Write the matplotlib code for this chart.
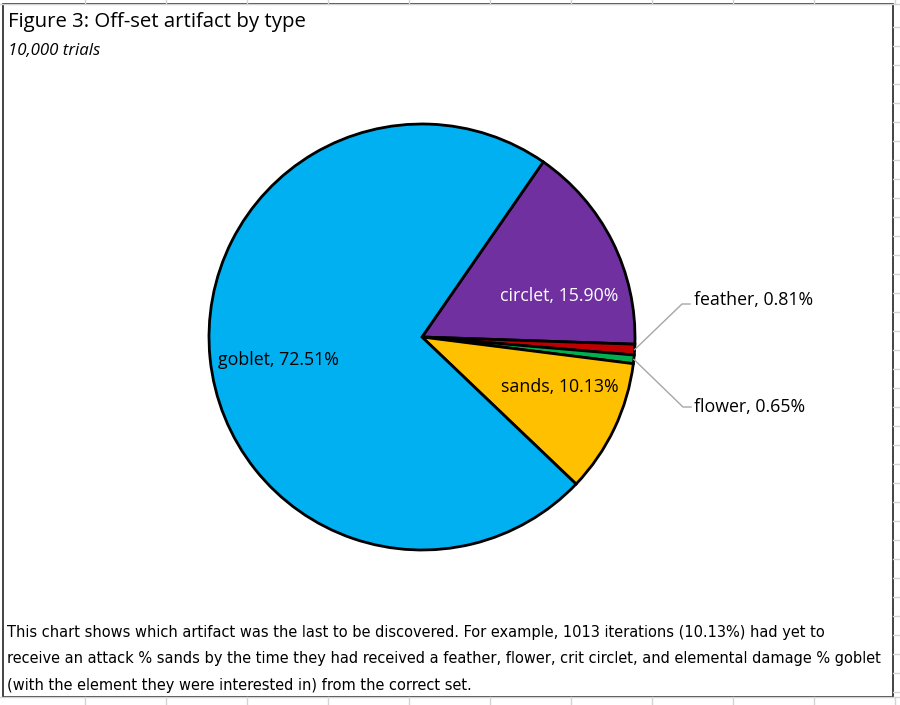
import numpy as np
import matplotlib.pyplot as plt
from matplotlib.patches import Rectangle

# Data (clockwise from the circlet/goblet boundary)
labels = ['circlet', 'feather', 'flower', 'sands', 'goblet']
shares = [15.90, 0.81, 0.65, 10.13, 72.51]
colors = ['#7030A0', '#C00000', '#00B050', '#FFC000', '#00B0F0']
label_colors = ['white', 'black', 'black', 'black', 'black']

title = 'Figure 3: Off-set artifact by type'
subtitle = '10,000 trials'
note = ('This chart shows which artifact was the last to be discovered. For example, 1013 iterations (10.13%) had yet to\n'
        'receive an attack % sands by the time they had received a feather, flower, crit circlet, and elemental damage % goblet\n'
        '(with the element they were interested in) from the correct set.')

W, H = 900, 705
fig = plt.figure(figsize=(9, 7.05), dpi=100, facecolor='white')
ax = fig.add_axes([0, 0, 1, 1])

# spreadsheet grid around the chart
grid = '#D4D4D4'
for y in np.arange(H - 27, 0, -19):
    ax.plot([893, W], [y, y], color=grid, lw=1)
for x in np.arange(85, 900, 81):
    ax.plot([x, x], [0, 8], color=grid, lw=1)
    ax.plot([x, x], [H - 4, H], color=grid, lw=1)
ax.plot([0, W], [8, 8], color=grid, lw=1)
ax.plot([0, W], [H - 4, H - 4], color=grid, lw=1)

# chart border
ax.add_patch(Rectangle((3, 8), 890, H - 12, fill=False, edgecolor='#222222', lw=1.2))

# pie
cx, cy, r = 422, H - 337, 213
start = 90 - 34.7
wedges, _ = ax.pie(shares, colors=colors, startangle=start, counterclock=False,
                   center=(cx, cy), radius=r, frame=True,
                   wedgeprops=dict(edgecolor='black', linewidth=2))
ax.set_xlim(0, W)
ax.set_ylim(0, H)
ax.set_aspect('equal')
ax.axis('off')

font = 'Open Sans'
# inside labels
inside = {0: (137, 41), 3: (138, -50), 4: (-144, -23)}
for i, (dx, dy) in inside.items():
    ax.text(cx + dx, cy + dy, f'{labels[i]}, {shares[i]:.2f}%', ha='center', va='center',
            fontsize=12.8, color=label_colors[i], family=font)

# outside labels with leader lines
outside = {1: (694, H - 300, 682, H - 304), 2: (694, H - 407, 683, H - 407)}
for i, (tx, ty, lx, ly) in outside.items():
    w = wedges[i]
    mid = np.deg2rad((w.theta1 + w.theta2) / 2)
    ex, ey = cx + r * np.cos(mid), cy + r * np.sin(mid)
    ax.plot([ex, lx, lx + 8], [ey, ly, ly], color='#A6A6A6', lw=1)
    ax.text(tx, ty, f'{labels[i]}, {shares[i]:.2f}%', ha='left', va='center',
            fontsize=12.8, color='black', family=font)

# titles and note
ax.text(8, H - 22, title, ha='left', va='center', fontsize=14.7, family=font)
ax.text(8, H - 51, subtitle, ha='left', va='center', fontsize=12.2, style='italic', family=font)
txt = ax.text(7, H - 659, note, ha='left', va='center', fontsize=12, linespacing=1.9,
              family='DejaVu Sans', fontstretch='condensed')

# fit the note to the width of the text box
renderer = fig.canvas.get_renderer()
wpx = txt.get_window_extent(renderer).width
fs = 12 * 872 / wpx
txt.set_fontsize(fs)
txt.set_linespacing(1.9 * 12 / fs if fs < 12 else 1.9)

fig.savefig('out.png', dpi=100, facecolor='white')
